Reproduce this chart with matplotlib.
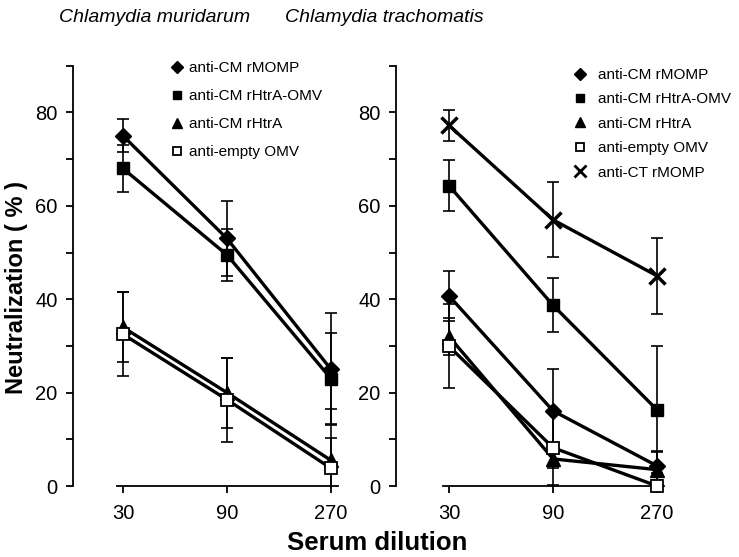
import matplotlib.pyplot as plt
from matplotlib.lines import Line2D

plt.rcParams['font.family'] = ['Liberation Sans', 'DejaVu Sans']

dilutions = ['30', '90', '270']
xpos = [0, 1, 2]

# Chlamydia muridarum panel
cm_labels = ['anti-CM rMOMP', 'anti-CM rHtrA-OMV', 'anti-CM rHtrA', 'anti-empty OMV']
cm_rmomp = [75, 53, 25]
cm_rmomp_err = [3.5, 8, 12]
cm_htra_omv = [68, 49.5, 23]
cm_htra_omv_err = [5, 5.5, 9.8]
cm_htra = [34, 20, 5.5]
cm_htra_err = [7.5, 7.5, 11]
cm_empty = [32.5, 18.5, 3.8]
cm_empty_err = [9, 9, 6.5]

# Chlamydia trachomatis panel
ct_labels = ['anti-CM rMOMP', 'anti-CM rHtrA-OMV', 'anti-CM rHtrA', 'anti-empty OMV', 'anti-CT rMOMP']
ct_rmomp = [40.7, 16.1, 4.3]
ct_rmomp_err = [5.3, 9, 3]
ct_htra_omv = [64.3, 38.7, 16.3]
ct_htra_omv_err = [5.5, 5.8, 13.6]
ct_htra = [32, 5.8, 3.5]
ct_htra_err = [4, 2, 4]
ct_empty = [29.9, 8.2, 0]
ct_empty_err = [9, 8, 1]
ct_ct_rmomp = [77.2, 57, 45]
ct_ct_rmomp_err = [3.3, 8, 8.2]

styles = [
    dict(marker='D', ms=8.5, mfc='black', mec='black', mew=1),
    dict(marker='s', ms=8.5, mfc='black', mec='black', mew=1),
    dict(marker='^', ms=9.5, mfc='black', mec='black', mew=1),
    dict(marker='s', ms=8, mfc='white', mec='black', mew=1.3),
    dict(marker='x', ms=12, mfc='black', mec='black', mew=2.5),
]

fig = plt.figure(figsize=(7.39, 5.57), dpi=100)
W, H = 739, 557
ppu = 4.67  # pixels per % unit


def make_axes(left_px, xmin):
    width_px = (2.1 - xmin) * 104
    ax = fig.add_axes([left_px / W, 71 / H, width_px / W, 91 * ppu / H])
    ax.set_xlim(xmin, 2.1)
    ax.set_ylim(0, 91)
    for s in ['top', 'right']:
        ax.spines[s].set_visible(False)
    ax.spines['left'].set_bounds(0, 90)
    ax.spines['bottom'].set_bounds(-0.06, 2.07)
    ax.spines['left'].set_linewidth(1.3)
    ax.spines['bottom'].set_linewidth(1.3)
    ax.set_xticks(xpos)
    ax.set_xticklabels(dilutions)
    ax.set_yticks(range(0, 91, 10))
    ax.set_yticklabels([str(v) if v % 20 == 0 else '' for v in range(0, 91, 10)])
    ax.tick_params(axis='y', length=5, width=1.3, pad=6, labelsize=14.5)
    ax.tick_params(axis='x', length=5, width=1.3, pad=8, labelsize=14.5)
    return ax


def draw_series(ax, values, errs, style):
    ax.errorbar(xpos, values, yerr=errs, fmt='none', ecolor='black',
                elinewidth=1.2, capsize=4, capthick=1.2, zorder=2)
    ax.plot(xpos, values, color='black', lw=2.4, zorder=3, clip_on=False, **style)


ax1 = make_axes(73, -0.48)
cm_series = [(cm_rmomp, cm_rmomp_err), (cm_htra_omv, cm_htra_omv_err),
             (cm_htra, cm_htra_err), (cm_empty, cm_empty_err)]
for (vals, errs), st in zip(cm_series, styles):
    draw_series(ax1, vals, errs, st)

ax2 = make_axes(396, -0.51)
ct_series = [(ct_rmomp, ct_rmomp_err), (ct_htra_omv, ct_htra_omv_err),
             (ct_htra, ct_htra_err), (ct_empty, ct_empty_err),
             (ct_ct_rmomp, ct_ct_rmomp_err)]
for (vals, errs), st in zip(ct_series, styles):
    draw_series(ax2, vals, errs, st)


def legend_handles(n):
    hs = []
    for st in styles[:n]:
        st2 = dict(st)
        st2['ms'] = st['ms'] * 0.72
        if st2['marker'] == 'x':
            st2['mew'] = 2
        hs.append(Line2D([], [], linestyle='none', color='black', **st2))
    return hs


ax1.legend(legend_handles(4), cm_labels, loc='upper left',
           bbox_to_anchor=(171 / W, 1 - 61 / H), bbox_transform=fig.transFigure,
           frameon=False, fontsize=11, handlelength=0.8, handletextpad=0.35,
           labelspacing=0.92, borderpad=0, borderaxespad=0)
ax2.legend(legend_handles(5), ct_labels, loc='upper left',
           bbox_to_anchor=(574 / W, 1 - 68 / H), bbox_transform=fig.transFigure,
           frameon=False, fontsize=11, handlelength=0.8, handletextpad=0.75,
           labelspacing=0.68, borderpad=0, borderaxespad=0)

fig.text(155 / W, 1 - 17 / H, 'Chlamydia muridarum', ha='center', va='center',
         style='italic', fontsize=14)
fig.text(384 / W, 1 - 17 / H, 'Chlamydia trachomatis', ha='center', va='center',
         style='italic', fontsize=14)
fig.text(377 / W, 1 - 543 / H, 'Serum dilution', ha='center', va='center',
         fontweight='bold', fontsize=18.5)
fig.text(17 / W, 1 - 287 / H, 'Neutralization ( % )', ha='center', va='center',
         rotation=90, fontweight='bold', fontsize=17)

fig.savefig('out.png', dpi=100)
